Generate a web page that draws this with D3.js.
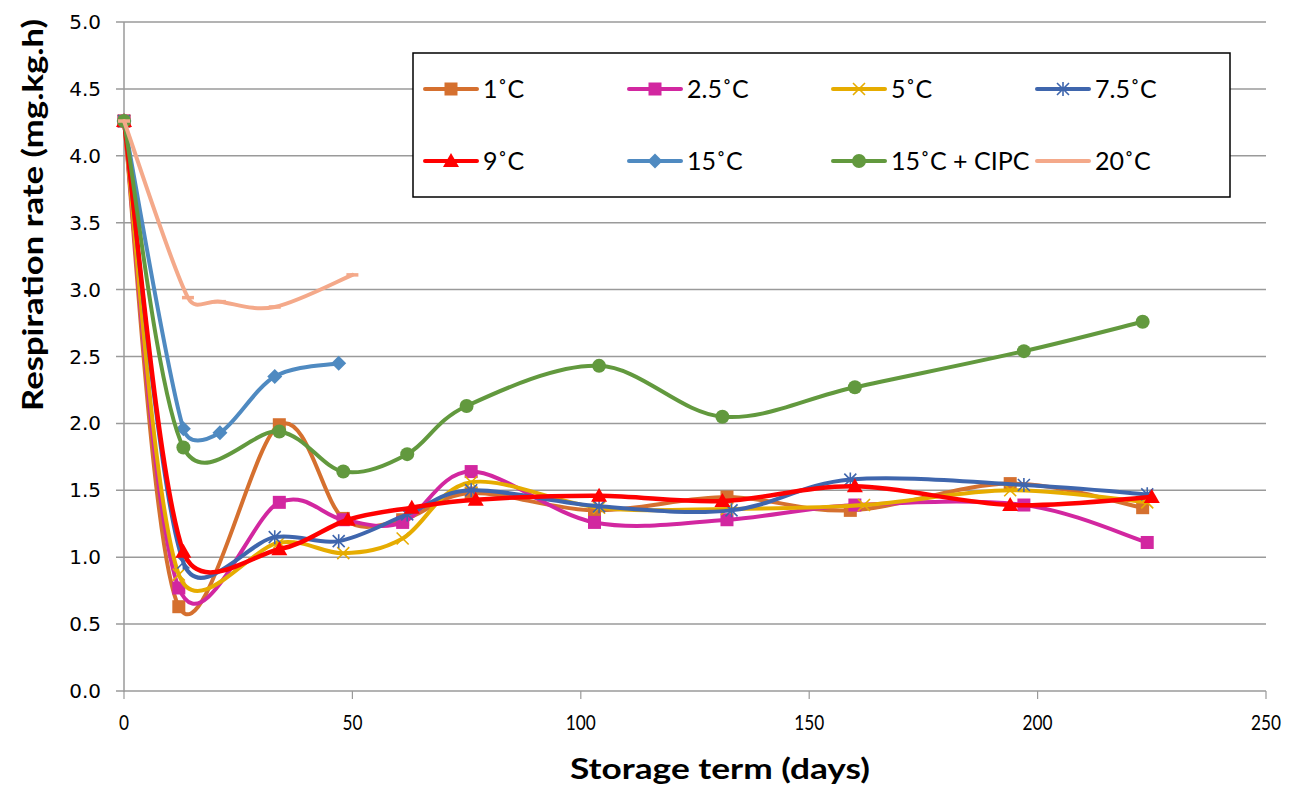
<!DOCTYPE html>
<html><head><meta charset="utf-8">
<script src="https://cdn.jsdelivr.net/npm/d3@7"></script>
<style>body{margin:0;background:#fff}svg{display:block}</style>
</head><body>
<svg id="c" width="1290" height="787"></svg>
<script>
// ---- data ----
const seriesNames = ["1˚C","2.5˚C","5˚C","7.5˚C","9˚C","15˚C","15˚C + CIPC","20˚C"];
const days1  = [0,12,34,48,61,76,103,132,159,194,223];
const vals1  = [4.26,0.63,1.99,1.29,1.28,1.48,1.35,1.45,1.35,1.55,1.37];
const days25 = [0,12,34,48,61,76,103,132,160,197,224];
const vals25 = [4.26,0.77,1.41,1.28,1.26,1.64,1.26,1.28,1.39,1.39,1.11];
const days5  = [0,12,34,48,61,76,104,132,162,194,224];
const vals5  = [4.26,0.87,1.11,1.03,1.14,1.56,1.37,1.36,1.39,1.50,1.41];
const days75 = [0,13,33,47,62,76,104,133,159,197,224];
const vals75 = [4.26,0.96,1.15,1.12,1.32,1.50,1.38,1.35,1.58,1.54,1.47];
const days9  = [0,13,34,49,63,77,104,131,160,194,225];
const vals9  = [4.26,1.04,1.06,1.28,1.37,1.43,1.46,1.42,1.53,1.39,1.45];
const days15 = [0,13,21,33,47];
const vals15 = [4.26,1.96,1.93,2.35,2.45];
const daysC  = [0,13,34,48,62,75,104,131,160,197,223];
const valsC  = [4.26,1.82,1.94,1.64,1.77,2.13,2.43,2.05,2.27,2.54,2.76];
const days20 = [0,14,21,33,50];
const vals20 = [4.26,2.94,2.91,2.87,3.11];
const xTicks = [0,50,100,150,200,250];
const yTicks = [0,0.5,1,1.5,2,2.5,3,3.5,4,4.5,5];
const colors = ["#D5702F","#D227A0","#E6AC00","#3F66AD","#FF0000","#4F8AC1","#62993E","#F4A98A"];
const markers = ["square","square","x","asterisk","triangle","diamond","circle","dash"];

const allDays = [days1,days25,days5,days75,days9,days15,daysC,days20];
const allVals = [vals1,vals25,vals5,vals75,vals9,vals15,valsC,vals20];
const series = seriesNames.map((n,i)=>({name:n,color:colors[i],marker:markers[i],
  pts:allDays[i].map((d,j)=>({x:d,y:allVals[i][j]}))}));

// ---- layout ----
const svg = d3.select("#c");
const L=124,R=1266,T=22,B=691;
const x = d3.scaleLinear().domain([0,250]).range([L,R]);
const y = d3.scaleLinear().domain([0,5]).range([B,T]);
const grid="#9A9A9A";
const sans="Lato, 'Open Sans', sans-serif";

// gridlines
svg.append("g").selectAll("line").data(yTicks).join("line")
  .attr("x1",L-8).attr("x2",R).attr("y1",d=>y(d)).attr("y2",d=>y(d))
  .attr("stroke",grid).attr("stroke-width",1.5);
// axes lines
svg.append("line").attr("x1",L).attr("x2",L).attr("y1",T).attr("y2",B+1).attr("stroke",grid).attr("stroke-width",1.5);
svg.append("g").selectAll("line").data(xTicks).join("line")
  .attr("x1",d=>x(d)).attr("x2",d=>x(d)).attr("y1",B).attr("y2",B+8)
  .attr("stroke",grid).attr("stroke-width",1.2);

// tick labels
svg.append("g").selectAll("text").data(yTicks).join("text")
  .attr("x",101).attr("y",d=>y(d)+7).attr("text-anchor","end")
  .attr("font-family","DejaVu Sans").attr("font-size",20).attr("fill","#000")
  .text(d=>d3.format(".1f")(d));
svg.append("g").selectAll("text").data(xTicks).join("text")
  .attr("x",d=>x(d)).attr("y",730).attr("text-anchor","middle")
  .attr("font-family",sans).attr("font-size",22).attr("fill","#000")
  .attr("textLength",d=>String(d).length*10).attr("lengthAdjust","spacingAndGlyphs")
  .text(d=>d);

// axis titles
svg.append("text").attr("x",720).attr("y",779).attr("text-anchor","middle")
  .attr("font-family",sans).attr("font-weight","bold").attr("font-size",29)
  .attr("textLength",300).attr("lengthAdjust","spacingAndGlyphs").text("Storage term (days)");
svg.append("text").attr("transform","translate(43,215) rotate(-90)").attr("text-anchor","middle")
  .attr("font-family",sans).attr("font-weight","bold").attr("font-size",29)
  .attr("textLength",392).attr("lengthAdjust","spacingAndGlyphs").text("Respiration rate (mg.kg.h)");

// marker drawing
function drawMarker(g,type,color,cx,cy){
  const s=6.5;
  if(type==="square") g.append("rect").attr("x",cx-s).attr("y",cy-s).attr("width",2*s).attr("height",2*s).attr("fill",color);
  else if(type==="circle") g.append("circle").attr("cx",cx).attr("cy",cy).attr("r",7).attr("fill",color);
  else if(type==="diamond") g.append("path").attr("d",`M${cx},${cy-7.5}L${cx+7.5},${cy}L${cx},${cy+7.5}L${cx-7.5},${cy}Z`).attr("fill",color);
  else if(type==="triangle") g.append("path").attr("d",`M${cx},${cy-8}L${cx+8},${cy+6}L${cx-8},${cy+6}Z`).attr("fill",color);
  else if(type==="x") g.append("path").attr("d",`M${cx-6},${cy-6}L${cx+6},${cy+6}M${cx+6},${cy-6}L${cx-6},${cy+6}`).attr("stroke",color).attr("stroke-width",1.6).attr("fill","none");
  else if(type==="asterisk") g.append("path").attr("d",`M${cx-6},${cy-6}L${cx+6},${cy+6}M${cx+6},${cy-6}L${cx-6},${cy+6}M${cx},${cy-7}L${cx},${cy+7}`).attr("stroke",color).attr("stroke-width",1.6).attr("fill","none");
  else if(type==="dash") g.append("path").attr("d",`M${cx-6},${cy}L${cx+6},${cy}`).attr("stroke",color).attr("stroke-width",3.5);
}

// spreadsheet-style smoothed line (Catmull-Rom bezier, handles capped by segment length)
function smoothPath(data){
  const P=data.map(d=>[x(d.x),y(d.y)]);
  const p=d3.path(); p.moveTo(P[0][0],P[0][1]);
  const cap=(v,m)=>{const l=Math.hypot(v[0],v[1]); return l>m&&l>0?[v[0]*m/l,v[1]*m/l]:v;};
  for(let i=0;i<P.length-1;i++){
    const a=P[i],b=P[i+1],pr=P[i-1]||a,nx=P[i+2]||b;
    const seg=Math.hypot(b[0]-a[0],b[1]-a[1]);
    const t1=cap([(b[0]-pr[0])/6,(b[1]-pr[1])/6],seg/2);
    const t2=cap([(nx[0]-a[0])/6,(nx[1]-a[1])/6],seg/2);
    p.bezierCurveTo(a[0]+t1[0],a[1]+t1[1],b[0]-t2[0],b[1]-t2[1],b[0],b[1]);
  }
  return p.toString();
}

// series
series.forEach((s,i)=>{
  const g=svg.append("g");
  g.append("path").attr("d",smoothPath(s.pts)).attr("fill","none").attr("stroke",s.color)
    .attr("stroke-width",s.color==="#FF0000"?4.5:4).attr("stroke-linejoin","round").attr("stroke-linecap","round");
  s.pts.forEach(p=>drawMarker(g,s.marker,s.color,x(p.x),y(p.y)));
});

// legend
const lg=svg.append("g");
lg.append("rect").attr("x",413).attr("y",53).attr("width",817).attr("height",144)
  .attr("fill","#fff").attr("stroke","#000").attr("stroke-width",1.5);
series.forEach((s,i)=>{
  const col=i%4,row=Math.floor(i/4);
  const lx=425+col*204, ly=89+row*72;
  lg.append("line").attr("x1",lx).attr("x2",lx+52).attr("y1",ly).attr("y2",ly)
    .attr("stroke",s.color).attr("stroke-width",4).attr("stroke-linecap","round");
  if(s.marker!=="dash") drawMarker(lg,s.marker,s.color,lx+26,ly);
  lg.append("text").attr("x",lx+58).attr("y",ly+9).attr("font-family",sans)
    .attr("font-size",25).attr("fill","#000").text(s.name);
});
</script>
</body></html>
